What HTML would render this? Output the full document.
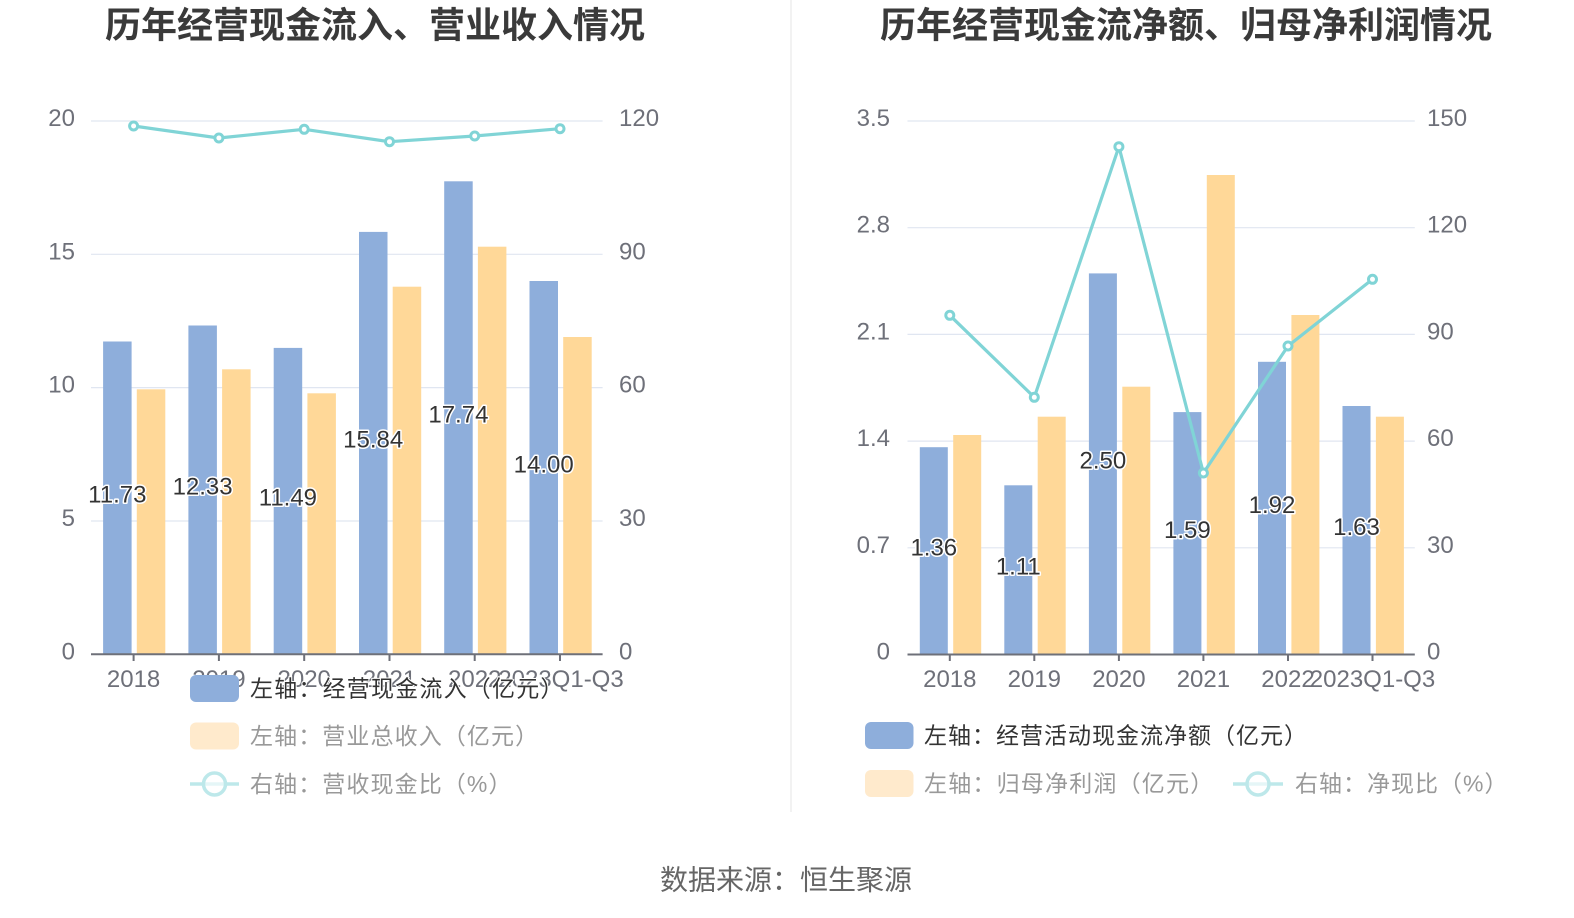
<!DOCTYPE html>
<html><head><meta charset="utf-8"><style>
html,body{margin:0;padding:0;background:#fff;}
svg{display:block;}
text{font-family:"Liberation Sans","Noto Sans CJK SC",sans-serif;}
.cjk{font-family:"Liberation Sans","Noto Sans CJK SC",sans-serif;}
.ax{font-size:24px;fill:#6e7079;}
.dl{font-size:24px;fill:#333;stroke:#fff;stroke-width:3px;paint-order:stroke;stroke-linejoin:round;}
.lg{font-size:23px;}
</style></head><body>
<svg width="1574" height="918" viewBox="0 0 1574 918" xmlns="http://www.w3.org/2000/svg">
<rect width="1574" height="918" fill="#fff"/>
<line x1="791" y1="0" x2="791" y2="812" stroke="#eeeeee" stroke-width="1.5"/>

<!-- Titles -->
<text class="cjk" x="375" y="25" font-size="36" font-weight="bold" fill="#3a3a3a" text-anchor="middle" dominant-baseline="central">历年经营现金流入、营业收入情况</text>
<text class="cjk" x="1186" y="25" font-size="36" font-weight="bold" fill="#3a3a3a" text-anchor="middle" dominant-baseline="central">历年经营现金流净额、归母净利润情况</text>

<!-- LEFT CHART -->
<g stroke="#e0e6f1" stroke-width="1.2">
<line x1="91" y1="121" x2="602.6" y2="121"/>
<line x1="91" y1="254.3" x2="602.6" y2="254.3"/>
<line x1="91" y1="387.6" x2="602.6" y2="387.6"/>
<line x1="91" y1="521" x2="602.6" y2="521"/>
</g>
<g class="ax" text-anchor="end">
<text x="75" y="126">20</text>
<text x="75" y="259.3">15</text>
<text x="75" y="392.6">10</text>
<text x="75" y="526">5</text>
<text x="75" y="659.3">0</text>
</g>
<g class="ax" text-anchor="start">
<text x="619" y="126">120</text>
<text x="619" y="259.3">90</text>
<text x="619" y="392.6">60</text>
<text x="619" y="526">30</text>
<text x="619" y="659.3">0</text>
</g>
<!-- bars left -->
<g fill="#8eaedb">
<rect x="103.1" y="341.5" width="28.5" height="312.8"/>
<rect x="188.4" y="325.5" width="28.5" height="328.8"/>
<rect x="273.7" y="347.9" width="28.5" height="306.4"/>
<rect x="359" y="231.9" width="28.5" height="422.4"/>
<rect x="444.2" y="181.3" width="28.5" height="473"/>
<rect x="529.5" y="281" width="28.5" height="373.3"/>
</g>
<g fill="#ffd898">
<rect x="136.8" y="389.3" width="28.5" height="265"/>
<rect x="222.1" y="369.3" width="28.5" height="285"/>
<rect x="307.4" y="393.3" width="28.5" height="261"/>
<rect x="392.7" y="286.7" width="28.5" height="367.6"/>
<rect x="477.9" y="246.7" width="28.5" height="407.6"/>
<rect x="563.2" y="337" width="28.5" height="317.3"/>
</g>
<line x1="91" y1="654.3" x2="602.6" y2="654.3" stroke="#6e7079" stroke-width="2"/>
<g stroke="#6e7079" stroke-width="2">
<line x1="133.6" y1="654" x2="133.6" y2="661"/>
<line x1="218.9" y1="654" x2="218.9" y2="661"/>
<line x1="304.2" y1="654" x2="304.2" y2="661"/>
<line x1="389.5" y1="654" x2="389.5" y2="661"/>
<line x1="474.7" y1="654" x2="474.7" y2="661"/>
<line x1="560" y1="654" x2="560" y2="661"/>
</g>
<g class="ax" text-anchor="middle">
<text x="133.6" y="687">2018</text>
<text x="218.9" y="687">2019</text>
<text x="304.2" y="687">2020</text>
<text x="389.5" y="687">2021</text>
<text x="474.7" y="687">2022</text>
<text x="561" y="687">2023Q1-Q3</text>
</g>
<!-- line left -->
<polyline points="133.6,126 218.9,138 304.2,129.3 389.5,141.7 474.7,136 560,128.7" fill="none" stroke="#80d4d6" stroke-width="3.2" stroke-linejoin="round"/>
<g fill="#fff" stroke="#80d4d6" stroke-width="3">
<circle cx="133.6" cy="126" r="4"/>
<circle cx="218.9" cy="138" r="4"/>
<circle cx="304.2" cy="129.3" r="4"/>
<circle cx="389.5" cy="141.7" r="4"/>
<circle cx="474.7" cy="136" r="4"/>
<circle cx="560" cy="128.7" r="4"/>
</g>
<!-- data labels left -->
<g class="dl" text-anchor="middle">
<text x="117.3" y="502.6">11.73</text>
<text x="202.6" y="494.5">12.33</text>
<text x="287.9" y="505.7">11.49</text>
<text x="373.2" y="447.7">15.84</text>
<text x="458.4" y="422.4">17.74</text>
<text x="543.7" y="472.3">14.00</text>
</g>
<!-- legend left -->
<rect x="190" y="675" width="49" height="27" rx="6" fill="#8eaedb"/>
<text class="cjk lg" x="250" y="688.5" fill="#333" stroke="#fff" stroke-width="2" paint-order="stroke" dominant-baseline="central" style="letter-spacing:1.2px">左轴：经营现金流入（亿元）</text>
<rect x="190" y="722.5" width="49" height="27" rx="6" fill="#ffeacc"/>
<text class="cjk lg" x="250" y="736" fill="#999" dominant-baseline="central" style="letter-spacing:1.1px">左轴：营业总收入（亿元）</text>
<line x1="190" y1="784" x2="239" y2="784" stroke="#bde8ea" stroke-width="3.5"/>
<circle cx="214.5" cy="784" r="11" fill="rgba(255,255,255,0.6)" stroke="#bde8ea" stroke-width="3.5"/>
<text class="cjk lg" x="250" y="784" fill="#999" dominant-baseline="central" style="letter-spacing:1.1px">右轴：营收现金比（%）</text>

<!-- RIGHT CHART -->
<g stroke="#e0e6f1" stroke-width="1.2">
<line x1="907.5" y1="121" x2="1414.8" y2="121"/>
<line x1="907.5" y1="227.7" x2="1414.8" y2="227.7"/>
<line x1="907.5" y1="334.4" x2="1414.8" y2="334.4"/>
<line x1="907.5" y1="441.1" x2="1414.8" y2="441.1"/>
<line x1="907.5" y1="547.8" x2="1414.8" y2="547.8"/>
</g>
<g class="ax" text-anchor="end">
<text x="890" y="126">3.5</text>
<text x="890" y="232.7">2.8</text>
<text x="890" y="339.4">2.1</text>
<text x="890" y="446.1">1.4</text>
<text x="890" y="552.8">0.7</text>
<text x="890" y="659.5">0</text>
</g>
<g class="ax" text-anchor="start">
<text x="1427" y="126">150</text>
<text x="1427" y="232.7">120</text>
<text x="1427" y="339.4">90</text>
<text x="1427" y="446.1">60</text>
<text x="1427" y="552.8">30</text>
<text x="1427" y="659.5">0</text>
</g>
<g fill="#8eaedb">
<rect x="919.8" y="447.2" width="28" height="207.3"/>
<rect x="1004.3" y="485.3" width="28" height="169.2"/>
<rect x="1088.9" y="273.4" width="28" height="381.1"/>
<rect x="1173.4" y="412.1" width="28" height="242.4"/>
<rect x="1258" y="361.8" width="28" height="292.7"/>
<rect x="1342.5" y="406" width="28" height="248.5"/>
</g>
<g fill="#ffd898">
<rect x="953.2" y="435" width="28" height="219.5"/>
<rect x="1037.7" y="416.7" width="28" height="237.8"/>
<rect x="1122.3" y="386.7" width="28" height="267.8"/>
<rect x="1206.8" y="175" width="28" height="479.5"/>
<rect x="1291.4" y="315" width="28" height="339.5"/>
<rect x="1375.9" y="416.7" width="28" height="237.8"/>
</g>
<line x1="907.5" y1="654.5" x2="1414.8" y2="654.5" stroke="#6e7079" stroke-width="2"/>
<g stroke="#6e7079" stroke-width="2">
<line x1="949.8" y1="654" x2="949.8" y2="661"/>
<line x1="1034.3" y1="654" x2="1034.3" y2="661"/>
<line x1="1118.9" y1="654" x2="1118.9" y2="661"/>
<line x1="1203.4" y1="654" x2="1203.4" y2="661"/>
<line x1="1288" y1="654" x2="1288" y2="661"/>
<line x1="1372.5" y1="654" x2="1372.5" y2="661"/>
</g>
<g class="ax" text-anchor="middle">
<text x="949.8" y="687">2018</text>
<text x="1034.3" y="687">2019</text>
<text x="1118.9" y="687">2020</text>
<text x="1203.4" y="687">2021</text>
<text x="1288" y="687">2022</text>
<text x="1372.5" y="687">2023Q1-Q3</text>
</g>
<polyline points="949.8,315.3 1034.3,397.3 1118.9,146.7 1203.4,473 1288,346 1372.5,279.3" fill="none" stroke="#80d4d6" stroke-width="3.2" stroke-linejoin="round"/>
<g fill="#fff" stroke="#80d4d6" stroke-width="3">
<circle cx="949.8" cy="315.3" r="4"/>
<circle cx="1034.3" cy="397.3" r="4"/>
<circle cx="1118.9" cy="146.7" r="4"/>
<circle cx="1203.4" cy="473" r="4"/>
<circle cx="1288" cy="346" r="4"/>
<circle cx="1372.5" cy="279.3" r="4"/>
</g>
<g class="dl" text-anchor="middle">
<text x="933.8" y="555.4">1.36</text>
<text x="1018.3" y="574.5">1.11</text>
<text x="1102.9" y="468.6">2.50</text>
<text x="1187.4" y="537.9">1.59</text>
<text x="1272" y="512.8">1.92</text>
<text x="1356.5" y="534.9">1.63</text>
</g>
<rect x="865" y="722" width="48.5" height="27" rx="6" fill="#8eaedb"/>
<text class="cjk lg" x="924" y="735.5" fill="#333" dominant-baseline="central" style="letter-spacing:1px">左轴：经营活动现金流净额（亿元）</text>
<rect x="865" y="770" width="48.5" height="27" rx="6" fill="#ffeacc"/>
<text class="cjk lg" x="924" y="783.5" fill="#999" dominant-baseline="central" style="letter-spacing:1.2px">左轴：归母净利润（亿元）</text>
<line x1="1233" y1="784" x2="1283" y2="784" stroke="#bde8ea" stroke-width="3.5"/>
<circle cx="1258" cy="784" r="11" fill="rgba(255,255,255,0.6)" stroke="#bde8ea" stroke-width="3.5"/>
<text class="cjk lg" x="1295" y="783.5" fill="#999" dominant-baseline="central" style="letter-spacing:1px">右轴：净现比（%）</text>

<!-- source -->
<text class="cjk" x="786" y="880" font-size="28" fill="#666" text-anchor="middle" dominant-baseline="central">数据来源：恒生聚源</text>
</svg>
</body></html>
